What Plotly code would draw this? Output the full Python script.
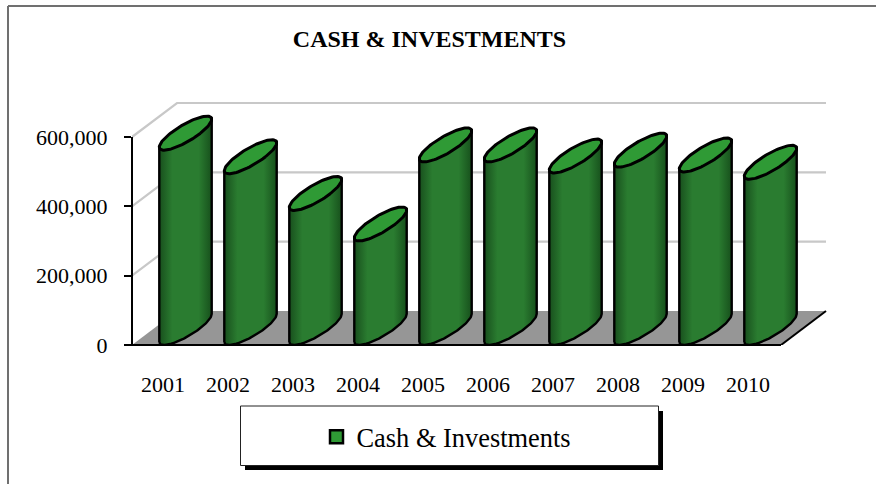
import numpy as np
import plotly.graph_objects as go

years = ["2001", "2002", "2003", "2004", "2005", "2006", "2007", "2008", "2009", "2010"]
cash_values = [562000, 494000, 388000, 300000, 528000, 528000, 496000, 513000, 499000, 478000]
y_ticks = [0, 200000, 400000, 600000]
series_name = "Cash & Investments"
chart_title = "CASH & INVESTMENTS"

W, H = 876, 484
PL, PR, PT, PB = 132, 835, 100, 345
FRONT_R = 781
TOP_TICK = 137
slot_px = 65
v_per_px = 600000 / (PB - TOP_TICK)
dx = 45 / slot_px
dy = 34 * v_per_px
dxe = 43 / slot_px
x_lo = (PL - 163) / slot_px
x_front = (FRONT_R - 163) / slot_px
x_hi = (PR - 163) / slot_px
y_hi = (PB - PT) * v_per_px
wu = 15 / slot_px
cx_off = 22.5 / slot_px
FONT = "Liberation Serif"

t = np.linspace(0, 2 * np.pi, 97)


def ellipse(cx, base):
    return (cx + wu * np.cos(t) + dxe / 2 * np.sin(t),
            base + dy / 2 + dy / 2 * np.sin(t))


fig = go.Figure()
aux = dict(mode="lines", hoverinfo="skip", showlegend=False, cliponaxis=False)

# floor
fig.add_trace(go.Scatter(x=[x_lo, x_front, x_front + dx, x_lo + dx, x_lo], y=[0, 0, dy, dy, 0],
                         fill="toself", fillcolor="#969696", line=dict(width=0), **aux))
fig.add_trace(go.Scatter(x=[x_front, x_front + dx], y=[0, dy], line=dict(color="black", width=2), **aux))
# walls / gridlines
for v in y_ticks[1:]:
    fig.add_trace(go.Scatter(x=[x_lo, x_lo + dx, x_front + dx], y=[v, v + dy, v + dy],
                             line=dict(color="#c8c8c8", width=2.2), **aux))

# real data trace (gives the legend entry; sits behind the cylinder bodies)
fig.add_trace(go.Scatter(x=[i + cx_off for i in range(len(years))], y=cash_values,
                         mode="markers", name=series_name, hoverinfo="skip", showlegend=True,
                         marker=dict(symbol="square", size=13, color="#2f9a35",
                                     line=dict(color="black", width=2.5))))

gradient = dict(type="horizontal",
                colorscale=[[0, "#184f1d"], [0.25, "#2a7c30"], [0.75, "#2a7c30"], [1, "#17501c"]])
for i, v in enumerate(cash_values):
    cx = i + cx_off
    ex0, ey0 = ellipse(cx, 0)
    ex1, ey1 = ellipse(cx, v)
    right = np.argmax(ex0)
    left = np.argmin(ex0)
    idx = [(left + k) % 96 for k in range(((right - left) % 96) + 1)]
    bx = list(ex0[idx]) + [ex1[right], ex1[left], ex0[left]]
    by = list(ey0[idx]) + [ey1[right], ey1[left], ey0[left]]
    fig.add_trace(go.Scatter(x=bx, y=by, fill="toself", fillgradient=gradient,
                             line=dict(color="black", width=2.4), **aux))
    fig.add_trace(go.Scatter(x=ex1, y=ey1, fill="toself", fillcolor="#2f9a35",
                             line=dict(color="black", width=3), **aux))


def px(x):
    return (x - PL) / (PR - PL)


def py(y):
    return (PB - y) / (PB - PT)


shapes = [
    dict(type="rect", xref="paper", yref="paper", x0=px(245), x1=px(663), y0=py(411), y1=py(470),
         fillcolor="black", line=dict(width=0), layer="below"),
    dict(type="rect", xref="paper", yref="paper", x0=px(240.5), x1=px(658.5), y0=py(406), y1=py(465.5),
         fillcolor="white", line=dict(color="#222222", width=1), layer="below"),
    dict(type="line", xref="paper", yref="paper", x0=px(8), x1=px(876), y0=py(6), y1=py(6),
         line=dict(color="#707070", width=2), layer="below"),
    dict(type="line", xref="paper", yref="paper", x0=px(8), x1=px(8), y0=py(6), y1=py(484),
         line=dict(color="#707070", width=2), layer="below"),
    # axis lines, which stop at the front of the 3D box
    dict(type="line", xref="paper", yref="paper", x0=px(125), x1=px(FRONT_R), y0=py(PB), y1=py(PB),
         line=dict(color="black", width=2), layer="above"),
    dict(type="line", xref="paper", yref="paper", x0=px(PL), x1=px(PL), y0=py(PB), y1=py(TOP_TICK),
         line=dict(color="black", width=2), layer="above"),
]

fig.update_layout(
    width=W, height=H,
    margin=dict(l=PL, r=W - PR, t=PT, b=H - PB, pad=0, autoexpand=False),
    paper_bgcolor="white", plot_bgcolor="rgba(0,0,0,0)",
    font=dict(family=FONT, color="black"),
    title=dict(text=f"<b>{chart_title}</b>", x=429.5 / W, xanchor="center", y=1 - 39 / H, yanchor="middle",
               font=dict(family=FONT, size=24, color="black")),
    xaxis=dict(range=[x_lo, x_hi], tickmode="array", tickvals=list(range(len(years))), ticktext=years,
               showgrid=False, zeroline=False, showline=False,
               ticks="outside", ticklen=20, tickcolor="rgba(0,0,0,0)", tickfont=dict(size=22, family=FONT)),
    yaxis=dict(range=[0, y_hi], tickmode="array", tickvals=y_ticks,
               ticktext=[f"{v:,}" for v in y_ticks],
               showgrid=False, zeroline=False, showline=False,
               ticks="outside", ticklen=7, tickwidth=2, tickcolor="black", ticklabelstandoff=12,
               tickfont=dict(size=22, family=FONT)),
    legend=dict(x=px(446.5), xanchor="center", y=py(437), yanchor="middle", bgcolor="rgba(0,0,0,0)",
                font=dict(size=26.4, family=FONT, color="black"), itemsizing="trace"),
    showlegend=True,
    shapes=shapes,
)

fig.write_html("out.html", config={"displayModeBar": False},
               post_script="document.body.style.margin='0';document.body.style.overflow='hidden';")
